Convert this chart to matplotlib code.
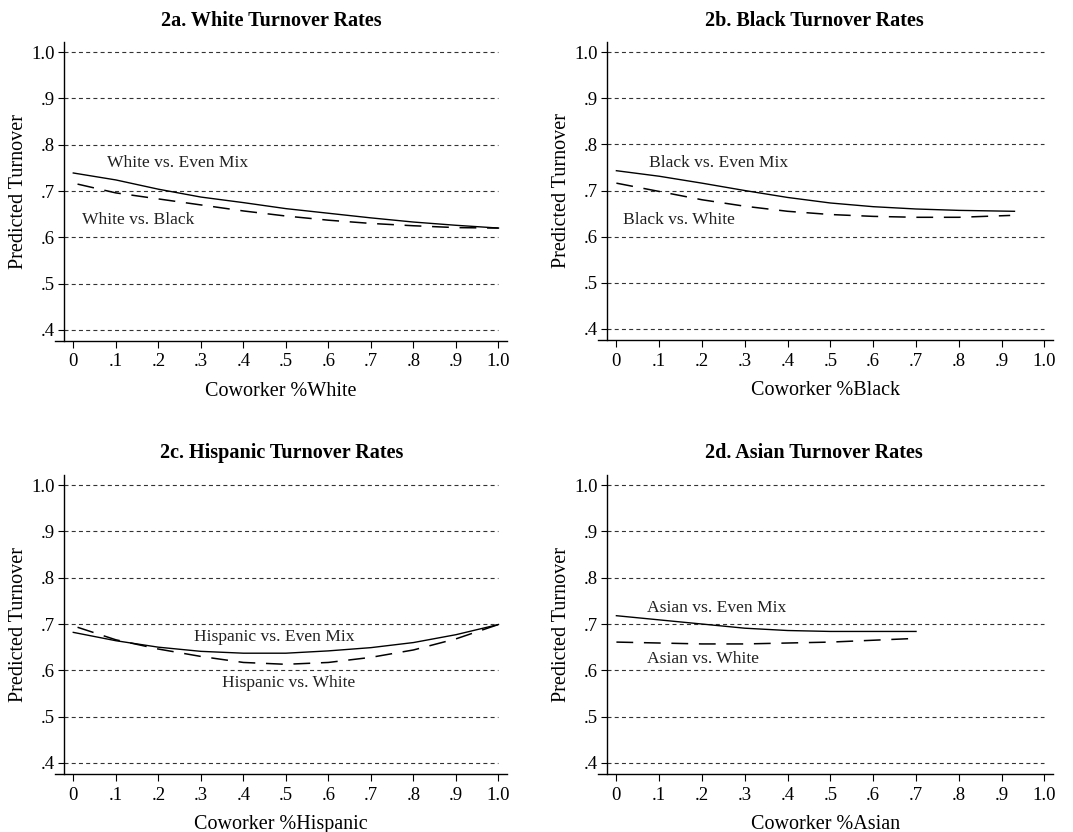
import numpy as np
import matplotlib
matplotlib.use('Agg')
import matplotlib.pyplot as plt

plt.rcParams['font.family'] = ['Liberation Serif', 'DejaVu Serif']

## Values
x_a_mix = [0, .1, .2, .3, .4, .5, .6, .7, .8, .9, 1.0]
y_a_mix = [.739, .724, .704, .687, .675, .662, .652, .642, .633, .626, .620]
x_a_oth = [.01, .1, .2, .3, .4, .5, .6, .7, .8, .9, 1.0]
y_a_oth = [.715, .696, .683, .670, .657, .646, .637, .630, .625, .621, .620]

x_b_mix = [0, .1, .2, .3, .4, .5, .6, .7, .8, .93]
y_b_mix = [.743, .731, .716, .700, .685, .673, .665, .660, .657, .655]
x_b_oth = [0, .1, .2, .3, .4, .5, .6, .7, .8, .92]
y_b_oth = [.716, .698, .680, .666, .655, .648, .644, .642, .642, .646]

x_c_mix = [0, .1, .2, .3, .4, .5, .6, .7, .8, .9, 1.0]
y_c_mix = [.682, .664, .650, .641, .637, .637, .642, .649, .660, .677, .699]
x_c_oth = [.01, .1, .2, .3, .4, .5, .6, .7, .8, .9, 1.0]
y_c_oth = [.693, .666, .646, .630, .617, .613, .617, .628, .644, .668, .699]

x_d_mix = [0, .1, .2, .3, .4, .5, .6, .7]
y_d_mix = [.718, .709, .700, .691, .686, .684, .684, .684]
x_d_oth = [0, .1, .2, .3, .4, .5, .6, .7]
y_d_oth = [.661, .659, .657, .657, .659, .661, .665, .669]

titles = ['2a. White Turnover Rates', '2b. Black Turnover Rates',
          '2c. Hispanic Turnover Rates', '2d. Asian Turnover Rates']
xlabels = ['Coworker %White', 'Coworker %Black',
           'Coworker %Hispanic', 'Coworker %Asian']
mix_labels = ['White vs. Even Mix', 'Black vs. Even Mix',
              'Hispanic vs. Even Mix', 'Asian vs. Even Mix']
oth_labels = ['White vs. Black', 'Black vs. White',
              'Hispanic vs. White', 'Asian vs. White']
mix_pos = [(.08, .760), (.077, .760), (.284, .671), (.071, .734)]
oth_pos = [(.02, .637), (.016, .637), (.35, .572), (.071, .625)]

yticks = [.4, .5, .6, .7, .8, .9, 1.0]
yticklabels = ['.4', '.5', '.6', '.7', '.8', '.9', '1.0']
xticks = [0, .1, .2, .3, .4, .5, .6, .7, .8, .9, 1.0]
xticklabels = ['0', '.1', '.2', '.3', '.4', '.5', '.6', '.7', '.8', '.9', '1.0']

series = [(x_a_mix, y_a_mix, x_a_oth, y_a_oth),
          (x_b_mix, y_b_mix, x_b_oth, y_b_oth),
          (x_c_mix, y_c_mix, x_c_oth, y_c_oth),
          (x_d_mix, y_d_mix, x_d_oth, y_d_oth)]

W, H = 1073, 832
fig = plt.figure(figsize=(W/100, H/100), dpi=100)

## axes boxes in pixels: left, top, right, bottom
boxes = [(55, 42, 507, 341), (598, 42, 1053, 340),
         (55, 475, 507, 774), (598, 475, 1053, 774)]
title_pos = [(271, 21), (814, 21), (282, 453), (814, 453)]

for i in range(4):
    l, t, r, b = boxes[i]
    ax = fig.add_axes([l/W, 1 - b/H, (r - l)/W, (b - t)/H])
    xm, ym, xo, yo = series[i]
    ax.set_xlim(-0.043, 1.02)
    ax.set_ylim(0.376, 1.022)
    ## dashed reference lines
    for yv in yticks:
        ax.plot([-0.023, 1.0], [yv, yv], color='#333333', lw=0.8,
                dashes=(3.6, 2.9), zorder=1)
    ax.plot(xm, ym, color='black', lw=1.0, zorder=3)
    ax.plot(xo, yo, color='black', lw=1.1, dashes=(11, 7), zorder=3)
    ax.text(mix_pos[i][0], mix_pos[i][1], mix_labels[i], fontsize=12.6,
            va='center', ha='left', color='#222222')
    ax.text(oth_pos[i][0], oth_pos[i][1], oth_labels[i], fontsize=12.6,
            va='center', ha='left', color='#222222')
    ## Stata-like axes
    for s in ['top', 'right']:
        ax.spines[s].set_visible(False)
    ax.spines['left'].set_position(('data', -0.023))
    ax.spines['left'].set_linewidth(1.0)
    ax.spines['bottom'].set_linewidth(1.0)
    ax.set_yticks(yticks)
    ax.set_yticklabels(yticklabels)
    ax.set_xticks(xticks)
    ax.set_xticklabels(xticklabels)
    ax.tick_params(axis='y', direction='out', length=4, width=0.8,
                   labelsize=13.5, pad=2)
    ax.tick_params(axis='x', direction='out', length=5, width=0.8,
                   labelsize=13.5, pad=4)
    ax.set_ylabel('Predicted Turnover', fontsize=14.5, labelpad=3)
    ax.set_xlabel(xlabels[i], fontsize=14.5, labelpad=8)
    fig.text(title_pos[i][0]/W, 1 - title_pos[i][1]/H, titles[i],
             fontsize=14.5, fontweight='bold', ha='center', va='center')

fig.savefig('out.png', dpi=100)
